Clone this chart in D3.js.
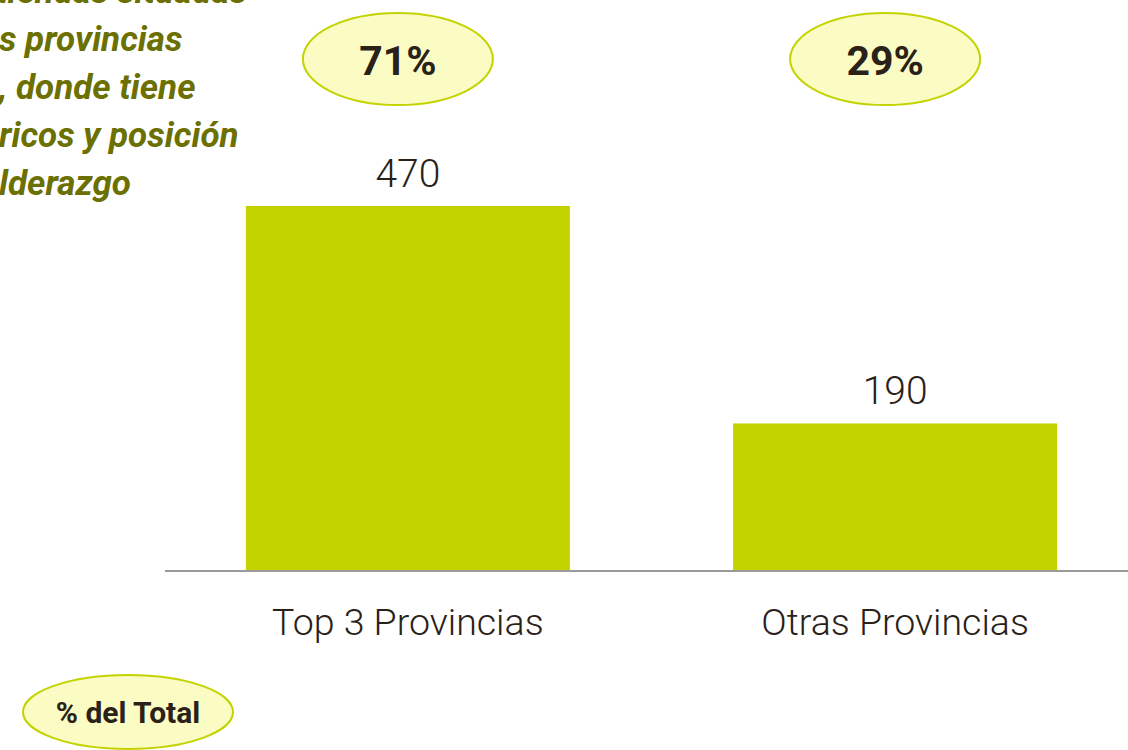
<!DOCTYPE html>
<html>
<head>
<meta charset="utf-8">
<script src="https://cdn.jsdelivr.net/npm/d3@7"></script>
<style>
    body { margin: 0; background: #fff; }
    svg { display: block; }
</style>
</head>
<body>
<div id="chart"></div>
<script>
const categories = ["Top 3 Provincias", "Otras Provincias"];
const values = [470, 190];
const shares = ["71%", "29%"];
const noteLines = ["tiendas situadas", "s provincias", ", donde tiene", "ricos y posición", "lderazgo"];
const badgeLabel = "% del Total";

const width = 1128;
const height = 750;
const baseY = 571;

const svg = d3.select("#chart")
    .append("svg")
    .attr("width", width)
    .attr("height", height);

const x = d3.scaleBand()
    .domain(categories)
    .range([165, 1138])
    .paddingInner(0.335)
    .paddingOuter(0.166);

const y = d3.scaleLinear()
    .domain([0, 470])
    .range([baseY, 206]);

// note text, cut at the left edge like the source slide
svg.append("g")
    .selectAll("text")
    .data(noteLines)
    .enter().append("text")
    .attr("x", (d, i) => i === 0 ? -4 : -1)
    .attr("y", (d, i) => 3 + i * 48)
    .style("font-family", "Roboto")
    .style("font-style", "italic")
    .style("font-weight", "700")
    .style("font-size", "35px")
    .style("fill", "#6b7000")
    .text(d => d);

// bars
svg.selectAll(".bar")
    .data(values)
    .enter().append("rect")
    .attr("class", "bar")
    .attr("x", (d, i) => x(categories[i]))
    .attr("y", d => y(d))
    .attr("width", x.bandwidth())
    .attr("height", d => baseY - y(d))
    .attr("fill", "#c3d300");

// baseline axis
svg.append("g")
    .attr("transform", `translate(0, ${baseY})`)
    .call(d3.axisBottom(x).tickSize(0).tickPadding(37))
    .call(g => g.select(".domain")
        .attr("d", `M165,0H${width}`)
        .style("stroke", "#9a9a9a")
        .style("stroke-width", "2px"))
    .selectAll("text")
    .style("font-family", "Roboto")
    .style("font-weight", "300")
    .style("font-size", "37.5px")
    .style("fill", "#2a2118");

// value labels
svg.selectAll(".value")
    .data(values)
    .enter().append("text")
    .attr("class", "value")
    .attr("x", (d, i) => x(categories[i]) + x.bandwidth() / 2)
    .attr("y", d => y(d) - 19)
    .attr("text-anchor", "middle")
    .style("font-family", "Roboto")
    .style("font-weight", "300")
    .style("font-size", "39px")
    .style("fill", "#2a2118")
    .text(d => d);

// share ellipses
const share = svg.selectAll(".share")
    .data(shares)
    .enter().append("g")
    .attr("class", "share")
    .attr("transform", (d, i) => `translate(${x(categories[i]) + x.bandwidth() / 2 - 10}, 59)`);

share.append("ellipse")
    .attr("rx", 95)
    .attr("ry", 46)
    .attr("fill", "#fafcc4")
    .attr("stroke", "#c3d300")
    .attr("stroke-width", 2);

share.append("text")
    .attr("y", 16)
    .attr("text-anchor", "middle")
    .style("font-family", "Roboto")
    .style("font-weight", "700")
    .style("font-size", "41px")
    .style("fill", "#2a2118")
    .text(d => d);

// legend badge
const badge = svg.append("g")
    .attr("transform", "translate(128, 712)");

badge.append("ellipse")
    .attr("rx", 105)
    .attr("ry", 37)
    .attr("fill", "#fafcc4")
    .attr("stroke", "#c3d300")
    .attr("stroke-width", 2);

badge.append("text")
    .attr("y", 11)
    .attr("text-anchor", "middle")
    .style("font-family", "Roboto")
    .style("font-weight", "700")
    .style("font-size", "30px")
    .style("fill", "#2a2118")
    .text(badgeLabel);
</script>
</body>
</html>
